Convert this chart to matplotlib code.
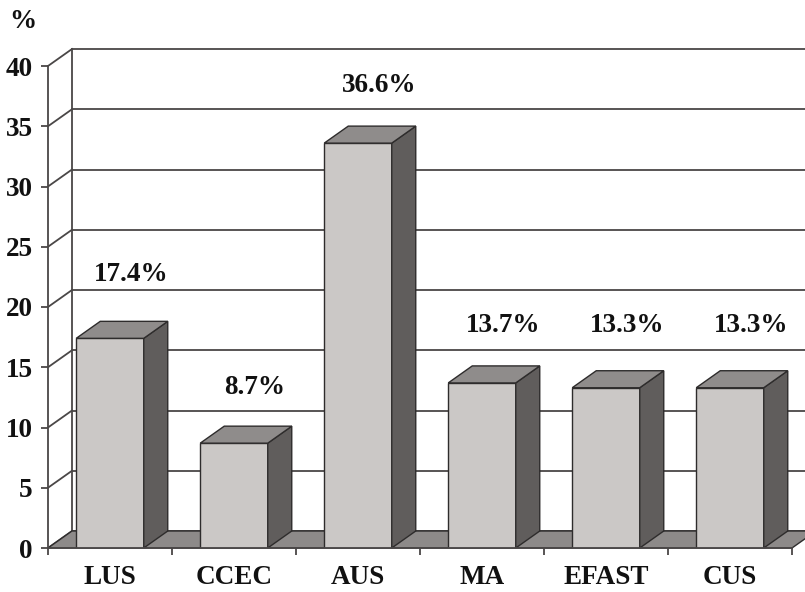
import matplotlib
matplotlib.use("Agg")
import matplotlib.pyplot as plt
from matplotlib.patches import Polygon

# ---- data ----
categories = ["LUS", "CCEC", "AUS", "MA", "EFAST", "CUS"]
bar_heights = [17.4, 8.7, 33.6, 13.7, 13.3, 13.3]          # heights as drawn
value_labels = ["17.4%", "8.7%", "36.6%", "13.7%", "13.3%", "13.3%"]
yticks = [0, 5, 10, 15, 20, 25, 30, 35, 40]

# ---- style / layout ----
W, H = 805, 592
fig = plt.figure(figsize=(W / 100, H / 100), dpi=100)
ax_left_px, ax_right_px = 48, 805
ax_bot_px, ax_top_px = 548, 66
ax = fig.add_axes([ax_left_px / W, (H - ax_bot_px) / H,
                   (ax_right_px - ax_left_px) / W, (ax_bot_px - ax_top_px) / H])
cat_px = 124.0
xmin = -0.5
xmax = xmin + (ax_right_px - ax_left_px) / cat_px
ax.set_xlim(xmin, xmax)
ax.set_ylim(0, 40)
px_per_y = (ax_bot_px - ax_top_px) / 40.0
dx = 24 / cat_px
dy = 17 / px_per_y
half_w = 67.5 / cat_px / 2

front_c = "#cbc8c6"
side_c = "#605d5c"
top_c = "#8f8c8b"
floor_c = "#8d8a89"
line_c = "#4a4747"
edge_c = "#2e2c2c"
font = dict(family="Liberation Serif", weight="bold")
fs = 19.5

n = len(categories)
xend = xmin + n

# back wall gridlines
for t in yticks:
    ax.plot([xmin + dx, xmax + 1], [t + dy, t + dy], color=line_c, lw=1.3,
            zorder=1, clip_on=False)
    ax.plot([xmin, xmin + dx], [t, t + dy], color=line_c, lw=1.3, zorder=1,
            clip_on=False)
# back wall left vertical
ax.plot([xmin + dx, xmin + dx], [dy, 40 + dy], color=line_c, lw=1.3, zorder=1,
        clip_on=False)

# floor
ax.add_patch(Polygon([(xmin, 0), (xend, 0), (xend + dx, dy), (xmin + dx, dy)],
                     closed=True, facecolor=floor_c, edgecolor=edge_c, lw=1,
                     zorder=2, clip_on=False))

# bars
for i, h in enumerate(bar_heights):
    x0, x1 = i - half_w, i + half_w
    ax.bar(i, h, width=2 * half_w, color=front_c, edgecolor=edge_c, lw=1,
           zorder=3)
    ax.add_patch(Polygon([(x1, 0), (x1 + dx, dy), (x1 + dx, h + dy), (x1, h)],
                         closed=True, facecolor=side_c, edgecolor=edge_c,
                         lw=1, zorder=3, clip_on=False))
    ax.add_patch(Polygon([(x0, h), (x1, h), (x1 + dx, h + dy), (x0 + dx, h + dy)],
                         closed=True, facecolor=top_c, edgecolor=edge_c,
                         lw=1, zorder=3, clip_on=False))

# value labels
label_y = [22.66, 13.28, 38.42, 18.5, 18.5, 18.5]
for i, (lab, ly) in enumerate(zip(value_labels, label_y)):
    ax.text(i + 0.17, ly, lab, ha="center", va="center", fontsize=fs,
            color="#111111", zorder=5, **font)

# axes styling
for s in ["top", "right", "bottom"]:
    ax.spines[s].set_visible(False)
ax.spines["left"].set_color(line_c)
ax.spines["left"].set_linewidth(1.3)
ax.plot([xmin, xend], [0, 0], color=line_c, lw=1.3, zorder=4, clip_on=False)

ax.set_yticks(yticks)
ax.set_yticklabels([str(t) for t in yticks], fontsize=fs, **font)
ax.tick_params(axis="y", direction="out", length=5, width=1.3, color=line_c,
               pad=6, labelcolor="#111111")
ax.set_xticks(range(n))
ax.set_xticklabels(categories, fontsize=fs, **font)
ax.set_xticks([xmin + k for k in range(n + 1)], minor=True)
ax.tick_params(axis="x", which="major", length=0, pad=12, labelcolor="#111111")
ax.tick_params(axis="x", which="minor", direction="out", length=5, width=1.3,
               color=line_c)

fig.text(23 / W, 1 - 22 / H, "%", ha="center", va="center", fontsize=fs,
         color="#111111", **font)

fig.savefig("out.png", dpi=100, facecolor="white")
